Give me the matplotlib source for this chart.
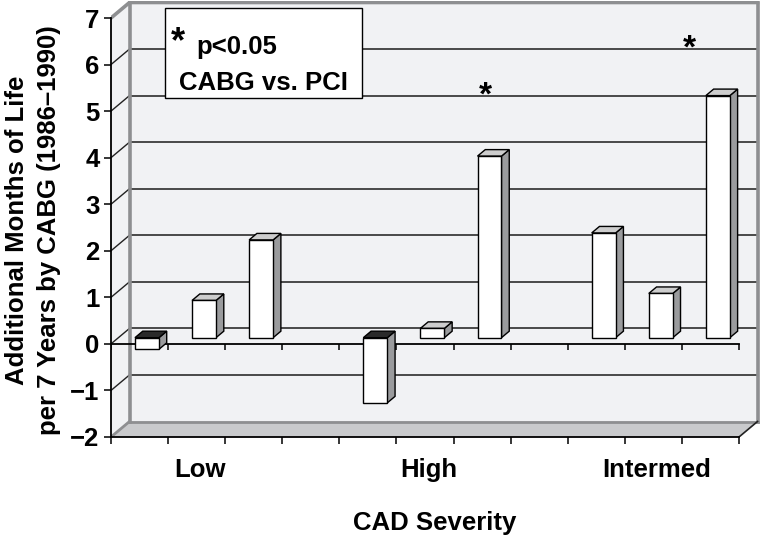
import matplotlib
matplotlib.use('Agg')
import matplotlib.pyplot as plt
from matplotlib.patches import Polygon, Rectangle

plt.rcParams['font.family'] = ['Liberation Sans', 'DejaVu Sans']
plt.rcParams['font.weight'] = 'bold'

# ---------------- data ----------------
categories = ['Low', 'High', 'Intermed']
category_slots = [1, 5, 9]
bar_slots = [0, 1, 2, 4, 5, 6, 8, 9, 10]
values = [-0.25, 0.8, 2.1, -1.4, 0.2, 3.9, 2.25, 0.95, 5.2]
y_ticks = list(range(-2, 8))
star_x = [6.55, 10.14]
star_y = [5.15, 6.16]
legend_star = '*'
legend_lines = ['p<0.05', 'CABG vs. PCI']
x_label = 'CAD Severity'
y_label_lines = ['Additional Months of Life', 'per 7 Years by CABG (1986\u20131990)']

# ---------------- layout ----------------
W, H = 761, 537
FS = 18.5
fig = plt.figure(figsize=(W / 100, H / 100), dpi=100)
fig.patch.set_facecolor('white')

x0px, x11px = 111, 739
ym2px, y7px = 437, 18
sx = (x11px - x0px) / 11.0
sy = (ym2px - y7px) / 9.0
XMAX, YMIN, YMAX = 11.36, -2, 7.36
ax = fig.add_axes([x0px / W, (H - ym2px) / H, XMAX * sx / W, (YMAX - YMIN) * sy / H])
ax.set_xlim(0, XMAX)
ax.set_ylim(YMIN, YMAX)
ax.patch.set_visible(False)

DX, DY = 18.5 / sx, 15.5 / sy     # depth offset of the back wall
NS = len(categories) * 4 - 1      # number of slots (11)
lo_v, hi_v = y_ticks[0], y_ticks[-1]

wall_c = '#f1f2f4'
floor_c = '#c9cacc'
edge_gray = '#8e8f91'

# back wall, side wall, floor
ax.add_patch(Polygon([(DX, lo_v + DY), (NS + DX, lo_v + DY), (NS + DX, hi_v + DY), (DX, hi_v + DY)],
                     closed=True, fc=wall_c, ec='none', zorder=0))
ax.add_patch(Polygon([(0, lo_v), (DX, lo_v + DY), (DX, hi_v + DY), (0, hi_v)],
                     closed=True, fc=wall_c, ec='none', zorder=0))
ax.add_patch(Polygon([(0, lo_v), (NS, lo_v), (NS + DX, lo_v + DY), (DX, lo_v + DY)],
                     closed=True, fc=floor_c, ec='none', zorder=0.5))

# gridlines on back wall and diagonals on side wall
for v in y_ticks[1:-1]:
    ax.plot([DX, NS + DX], [v + DY, v + DY], color='#3c3c3c', lw=1.3, zorder=1, solid_capstyle='butt')
    ax.plot([0, DX], [v, v + DY], color='#222222', lw=1.0, zorder=1)

# wall edges (gray, thick)
ax.plot([DX, DX], [lo_v + DY, hi_v + DY], color=edge_gray, lw=2.6, zorder=1.2)
ax.plot([NS + DX, NS + DX], [lo_v + DY, hi_v + DY], color=edge_gray, lw=2.6, zorder=1.2)
ax.plot([0, DX, NS + DX], [hi_v, hi_v + DY, hi_v + DY], color=edge_gray, lw=2.6, zorder=1.2,
        solid_joinstyle='miter')
ax.plot([DX, NS + DX], [lo_v + DY, lo_v + DY], color=edge_gray, lw=2.0, zorder=1.2)
ax.plot([0, DX], [lo_v, lo_v + DY], color=edge_gray, lw=2.0, zorder=1.2)
ax.plot([NS, NS + DX], [lo_v, lo_v + DY], color='#222222', lw=1.2, zorder=1.2)

# zero line with ticks (front)
ax.plot([0, NS], [0, 0], color='black', lw=1.3, zorder=2)
ax.vlines(range(NS + 1), -6.5 / sy, 0, color='black', lw=1.1, zorder=2)

# bars (3D style)
f, bd, w = 0.4, 0.42, 0.42
ox, oy = f * DX, f * DY
bx, by = bd * DX, bd * DY
bar_x = [s + 0.5 + ox for s in bar_slots]
ax.bar(bar_x, values, width=w, bottom=oy, color='white', edgecolor='black', linewidth=1.0, zorder=4)
for xc, v in zip(bar_x, values):
    xl, xr = xc - w / 2, xc + w / 2
    lo, hi = oy + min(0, v), oy + max(0, v)
    ax.add_patch(Polygon([(xr, lo), (xr + bx, lo + by), (xr + bx, hi + by), (xr, hi)],
                         closed=True, fc='#9a9b9d', ec='black', lw=1.0, zorder=3.5))
    top_c = '#cdcdcd' if v > 0 else '#2a2a2a'
    ax.add_patch(Polygon([(xl, hi), (xr, hi), (xr + bx, hi + by), (xl + bx, hi + by)],
                         closed=True, fc=top_c, ec='black', lw=1.0, zorder=3.5))

# significance stars
for xs, ys in zip(star_x, star_y):
    ax.text(xs, ys, '*', fontsize=24, fontweight='bold', ha='center', va='baseline', zorder=6)

# axes / ticks
for s in ['top', 'right']:
    ax.spines[s].set_visible(False)
ax.spines['left'].set_bounds(lo_v, hi_v)
ax.spines['bottom'].set_bounds(0, NS)
ax.spines['left'].set_linewidth(1.3)
ax.spines['bottom'].set_linewidth(1.3)
ax.spines['left'].set_zorder(2.5)
ax.spines['bottom'].set_zorder(2.5)

ax.set_yticks(y_ticks)
ax.set_yticklabels([('\u2212%d' % -t) if t < 0 else str(t) for t in y_ticks])
ax.tick_params(axis='y', length=5.2, width=1.1, pad=3, labelsize=FS, direction='out')
ax.set_xticks(range(NS + 1))
ax.set_xticklabels([])
ax.tick_params(axis='x', which='major', length=5.2, width=1.1, direction='out')
ax.set_xticks([s + 0.5 + 0.06 for s in category_slots], minor=True)
ax.set_xticklabels(categories, minor=True)
ax.tick_params(axis='x', which='minor', length=0, pad=15.2, labelsize=FS)
for lab in ax.get_xticklabels(minor=True) + ax.get_yticklabels():
    lab.set_fontweight('bold')

# axis titles
fig.text(435 / W, 1 - 530 / H, x_label, fontsize=FS, fontweight='bold', ha='center', va='baseline')
fig.text(24 / W, 1 - 230 / H, y_label_lines[0], fontsize=FS, fontweight='bold', rotation=90,
         rotation_mode='anchor', ha='center', va='baseline')
fig.text(56 / W, 1 - 230 / H, y_label_lines[1], fontsize=FS, fontweight='bold', rotation=90,
         rotation_mode='anchor', ha='center', va='baseline')

# legend box
fig.add_artist(Rectangle((165 / W, 1 - 98 / H), (362 - 165) / W, 90 / H, transform=fig.transFigure,
                         fc='white', ec='black', lw=1.0, zorder=5))
fig.text(171 / W, 1 - 52 / H, legend_star, fontsize=26, fontweight='bold', ha='left', va='baseline', zorder=6)
fig.text(196 / W, 1 - 54 / H, legend_lines[0], fontsize=FS, fontweight='bold', ha='left', va='baseline', zorder=6)
fig.text(263 / W, 1 - 90 / H, legend_lines[1], fontsize=FS, fontweight='bold', ha='center', va='baseline', zorder=6)

fig.savefig('out.png', dpi=100)
